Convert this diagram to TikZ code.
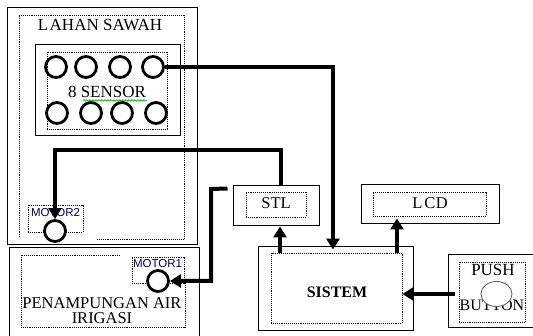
\documentclass[tikz,border=0pt]{standalone}
\usepackage{fontspec}
\setmainfont{Liberation Serif}
\newfontfamily\lblsans{Liberation Sans}
\usetikzlibrary{arrows.meta,calc,decorations.pathmorphing,shapes.geometric}
\begin{document}
\begin{tikzpicture}[x=1pt,y=-1pt,
  solidbox/.style={draw,line width=1pt,inner sep=0pt},
  dotbox/.style={draw,densely dotted,line width=0.9pt,inner sep=0pt},
  dotline/.style={densely dotted,line width=0.9pt},
  sensor/.style={circle,draw,line width=2.8pt,minimum size=21pt,inner sep=0pt},
  conn/.style={line width=4pt,-{Triangle[length=11pt,width=13pt]}},
  lbl/.style={font=\fontsize{16.5}{18}\selectfont,inner sep=0pt},
  biglbl/.style={font=\fontsize{17}{19}\selectfont,inner sep=0pt},
  motorlbl/.style={font=\lblsans\fontsize{11.5}{13}\selectfont,inner sep=0pt,text=black!70!blue}
]
\path[use as bounding box] (0,0) rectangle (533,336);
\clip (0,0) rectangle (533,336);

% ---------- LAHAN SAWAH ----------
\node[solidbox,minimum width=190pt,minimum height=237pt] (lahan) at (102,126.5) {};
\draw[dotline] (97,239) -- (184,239) -- (184,15) -- (19,15) -- (19,237);
\node[biglbl] (lahantxt) at (100,25) {L\kern1.5pt AHAN SAWAH};

\node[solidbox,minimum width=145pt,minimum height=91pt] (sbox) at (107.5,90.5) {};
\node[dotbox,minimum width=120pt,minimum height=77pt] (sboxd) at (107,90.5) {};
\node[biglbl] (sentxt) at (107,92) {8 SENSOR};
\draw[green!60!black,line width=0.6pt,decorate,decoration={snake,amplitude=0.8pt,segment length=3pt}]
  ($(sentxt.south)+(-24,2.5)$) -- ($(sentxt.south)+(40,2.5)$);

\node[sensor] (s1) at (56,67) {};
\node[sensor] (s2) at (86,67) {};
\node[sensor] (s3) at (120,67) {};
\node[sensor] (s4) at (153,67) {};
\node[sensor] (s5) at (57,113) {};
\node[sensor] (s6) at (91,113) {};
\node[sensor] (s7) at (122,113) {};
\node[sensor] (s8) at (156,113) {};

% MOTOR2
\node[dotbox,minimum width=55pt,minimum height=27pt] (m2box) at (55.5,218.5) {};
\node[motorlbl] (m2txt) at (55.5,213) {MOTOR2};
\node[sensor,fill=white] (m2) at (55,231) {};

% ---------- PENAMPUNGAN ----------
\node[solidbox,minimum width=190pt,minimum height=100pt] (pen) at (104,298) {};
\draw[dotline] (120,255) -- (21,255) -- (21,327) -- (185,327) -- (185,283);
\node[dotbox,minimum width=52pt,minimum height=26pt] (m1box) at (158,270) {};
\node[motorlbl] (m1txt) at (157.5,263.5) {MOTOR1};
\node[sensor,fill=white] (m1) at (158,281) {};
\node[lbl] (pentxt1) at (102,303) {PENAMPUNGAN AIR};
\node[lbl] (pentxt2) at (102,318.5) {IRIGASI};

% ---------- STL ----------
\node[solidbox,minimum width=86pt,minimum height=40pt] (stl) at (276,206) {};
\node[dotbox,minimum width=60pt,minimum height=25pt] (stld) at (276,204.5) {};
\node[lbl] (stltxt) at (276,203.5) {STL};

% ---------- LCD ----------
\node[solidbox,minimum width=138pt,minimum height=39pt] (lcd) at (430,204.5) {};
\node[dotbox,minimum width=113pt,minimum height=24pt] (lcdd) at (429.5,204) {};
\node[lbl] (lcdtxt) at (430,203) {L\kern2pt C\kern0.5pt D};

% ---------- SISTEM ----------
\node[solidbox,minimum width=155pt,minimum height=84pt] (sys) at (335.5,289) {};
\node[dotbox,minimum width=131pt,minimum height=70pt] (sysd) at (336.5,288) {};
\node[font=\fontsize{16}{18}\selectfont\bfseries,inner sep=0pt] (systxt) at (337,292) {SISTEM};

% ---------- PUSH BUTTON ----------
\node[solidbox,minimum width=86pt,minimum height=73pt] (push) at (491,291.5) {};
\node[dotbox,minimum width=66pt,minimum height=60pt] (pushd) at (492,292) {};
\node[font=\fontsize{17}{19}\selectfont,inner sep=0pt] (pushtxt) at (493,270) {PUSH};
\node[font=\fontsize{16}{18}\selectfont,inner sep=0pt] (buttxt) at (492,305) {BUTTON};
\node[ellipse,draw=black!60,fill=white,line width=0.9pt,minimum width=31pt,minimum height=25pt,inner sep=0pt] (pb) at (496.5,294) {};

% ---------- connectors ----------
\coordinate (ya) at (0,150);
\coordinate (xa) at (280,0);
\coordinate (xb) at (397,0);
\coordinate (yc) at (0,294);
\coordinate (c3) at (211,189);
\coordinate (stlw) at ($(stl.north west)+(-5,3)$);

\draw[conn] (s4.east) -| ($(sysd.north)+(-3.5,-3)$);
\draw[conn] ($(stl.north)+(5,0)$) |- (m2.north |- ya) -- (m2.north);
\draw[conn] (stlw) -- (c3) |- (m1.east);
\draw[conn] (sysd.north -| xa) -- (stl.south -| xa);
\draw[conn] (sysd.north -| xb) -- ($(lcdd.south -| xb)+(0,2)$);
\draw[conn] ($(pushd.west |- yc)+(-4,0)$) -- (sysd.east |- yc);
\end{tikzpicture}
\end{document}
